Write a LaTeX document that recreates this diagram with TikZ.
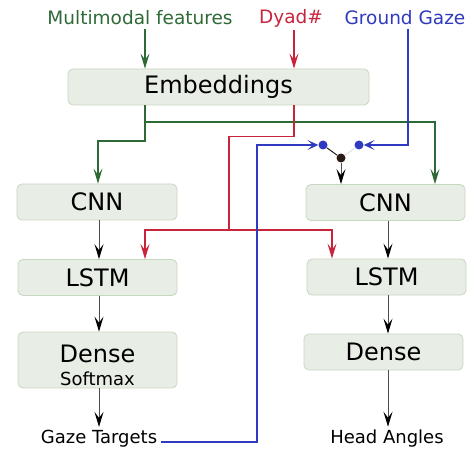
\documentclass[tikz,border=0pt]{standalone}
\usepackage{fontspec}
\setmainfont{DejaVu Sans}
\usepackage{xcolor}
\usetikzlibrary{arrows.meta, positioning, calc}
\definecolor{clrFeat}{HTML}{2E6A36}
\definecolor{clrDyad}{HTML}{C8243C}
\definecolor{clrGaze}{HTML}{2F3AC0}
\definecolor{clrBox}{HTML}{E8EDE5}
\definecolor{clrBoxLine}{HTML}{C6D7BF}
\definecolor{clrJoin}{HTML}{2A1A14}

\begin{document}
\begin{tikzpicture}[
    x=1pt, y=1pt,
    layer/.style={rectangle, draw=clrBoxLine, fill=clrBox, minimum width=159pt, minimum height=36pt, align=center, font=\fontsize{24}{26}\selectfont, rounded corners=5pt, line width=0.8pt, inner sep=0pt},
    inlbl/.style={font=\fontsize{18.5}{21}\selectfont},
    outlbl/.style={font=\fontsize{18}{21}\selectfont},
    arrow/.style={-{Stealth[length=15pt, width=9pt, inset=6pt, color=black]}, line width=1pt, black!70},
    featline/.style={line width=1.3pt, clrFeat},
    featarrow/.style={featline, -{Stealth[length=15pt, width=9pt, inset=6pt]}},
    dyadline/.style={line width=1.3pt, clrDyad},
    dyadarrow/.style={dyadline, -{Stealth[length=15pt, width=9pt, inset=6pt]}},
    gazearrow/.style={-{Stealth[length=11pt, width=10pt, inset=5.5pt]}, line width=1.3pt, clrGaze},
    dot/.style={circle, inner sep=0pt, minimum size=9pt},
]
\useasboundingbox (0,0) rectangle (471,-449);

% Inputs at top
\node[inlbl, text=clrFeat] (feat) at (140,-18) {Multimodal features};
\node[inlbl, text=clrDyad] (dyad) at (291,-18) {Dyad\#};
\node[inlbl, text=clrGaze] (gaze) at (405,-18) {Ground Gaze};

% Shared embeddings
\node[layer, minimum width=301pt] (emb) at (218.5,-87) {Embeddings};
\draw[featarrow] ([xshift=5pt]feat.south) -- ([xshift=5pt]feat.south |- emb.north);
\draw[dyadarrow] ([xshift=3pt]dyad.south) -- ([xshift=3pt]dyad.south |- emb.north);

% Left branch (gaze targets)
\node[layer, minimum width=160pt] (cnnL) at (97,-202) {CNN};
\node[layer] (lstmL) at (97.5,-277.5) {LSTM};
\node[layer, minimum height=56pt] (denseL) at (97.5,-360) {\rule{0pt}{28pt}Dense\\[-3pt]{\fontsize{18}{20}\selectfont Softmax}};
\node[outlbl] (targets) at (99,-439) {Gaze Targets};

% Right branch (head angles)
\node[layer] (cnnR) at (385.5,-202.5) {CNN};
\node[layer] (lstmR) at (386.5,-277) {LSTM};
\node[layer] (denseR) at (383.5,-352) {Dense};
\node[outlbl] (angles) at (387,-439) {Head Angles};

\draw[arrow] ([xshift=2pt]cnnL.south) -- ([xshift=1.5pt]lstmL.north);
\draw[arrow] ([xshift=1.5pt]lstmL.south) -- ([xshift=1.5pt]denseL.north);
\draw[arrow] ([xshift=1.5pt]denseL.south) -- ([xshift=1.5pt]denseL.south |- targets.north);
\draw[arrow] ([xshift=2.5pt]cnnR.south) -- ([xshift=1.5pt]lstmR.north);
\draw[arrow] ([xshift=1.5pt]lstmR.south) -- ([xshift=1.5pt]lstmR.south |- denseR.north);
\draw[arrow] ([xshift=4.5pt]denseR.south) -- ([xshift=4.5pt]denseR.south |- angles.north);

% Features to both CNNs
\coordinate (fsplit) at (145,-122);
\draw[featline] ([xshift=5pt]feat.south |- emb.south) -- (fsplit);
\draw[featarrow] (fsplit) -| ([xshift=49.5pt]cnnR.north);
\draw[featarrow] (fsplit) -- ++(0,-19) -| ([xshift=1pt]cnnL.north);

% Dyad id to both LSTMs
\coordinate (dsplit) at (229,-230);
\draw[dyadline] ([xshift=3pt]dyad.south |- emb.south) -- ++(0,-31) -| (dsplit);
\draw[dyadarrow] (dsplit) -| ([xshift=47.5pt]lstmL.north);
\draw[dyadarrow] (dsplit) -| ([xshift=-54.5pt]lstmR.north);

% Gaze feedback into right CNN
\node[dot, fill=clrGaze] (gdotL) at (323,-145) {};
\node[dot, fill=clrGaze] (gdotR) at (359,-145) {};
\node[dot, fill=clrJoin] (join) at (341,-158) {};
\coordinate (gknee) at (257,-145);
\draw[gazearrow] ([yshift=-3pt]targets.east) -| (gknee) -- (gdotL);
\draw[gazearrow] ([xshift=3pt]gaze.south) |- (gdotR);
\draw[line width=1pt, clrJoin] (gdotL) -- (join);
\draw[line width=1pt, black!12] (gdotR) -- (join);
\draw[arrow] (join) -- (join |- cnnR.north);

\end{tikzpicture}
\end{document}
